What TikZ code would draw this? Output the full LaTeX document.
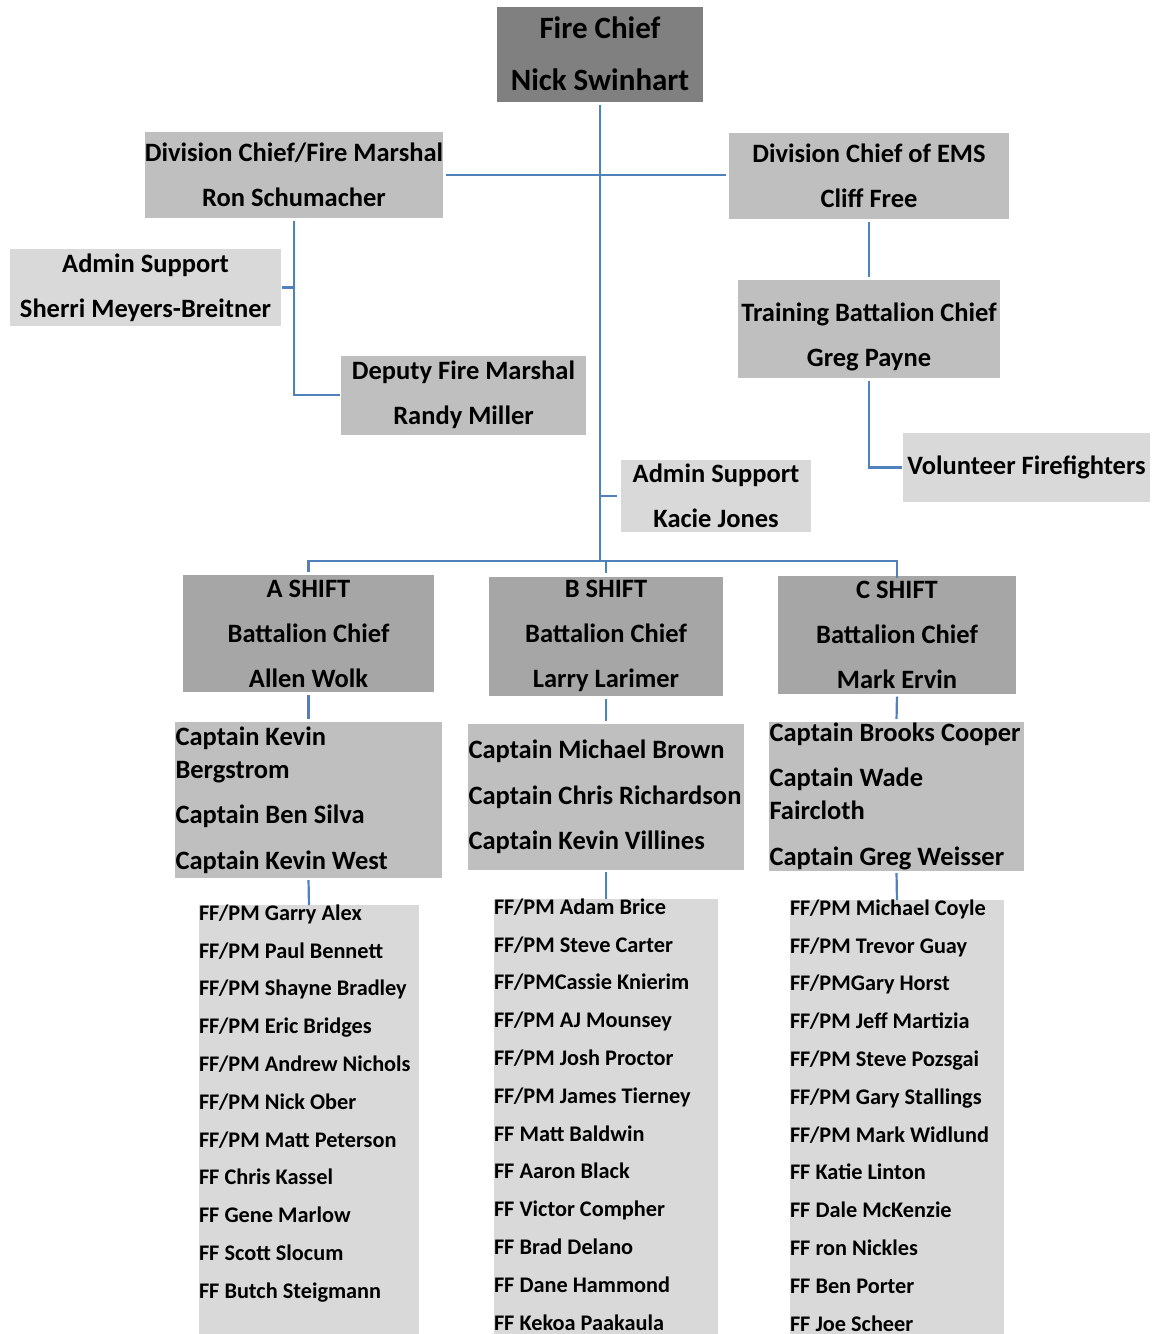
\documentclass[tikz,border=0pt]{standalone}
\usepackage{fontspec}
\setmainfont{Carlito}
\usepackage{tikz}
\usepackage{xcolor}

\definecolor{linkblue}{HTML}{4F81BD}
\definecolor{chiefgray}{HTML}{808080}
\definecolor{shiftgray}{HTML}{A6A6A6}
\definecolor{midgray}{HTML}{BFBFBF}
\definecolor{palegray}{HTML}{D9D9D9}

\tikzset{
  orgbox/.style={rectangle, inner sep=0pt, align=center, fill=midgray,
    font=\bfseries\fontsize{26.5}{45}\selectfont},
  crewbox/.style={rectangle, inner xsep=0.5pt, inner ysep=0pt, align=flush left, fill=midgray,
    font=\bfseries\fontsize{26.5}{33}\selectfont},
  rosterbox/.style={rectangle, inner sep=0pt, anchor=north, align=flush left, fill=palegray,
    text height=15pt, text depth=480pt, font=\bfseries\fontsize{22.3}{37.8}\selectfont},
  link/.style={draw=linkblue, line width=2.2pt},
}

\begin{document}
\begin{tikzpicture}[x=1pt, y=-1pt]
\useasboundingbox (0,0) rectangle (1155,1334);
\clip (0,0) rectangle (1155,1334);
\fill[white] (0,0) rectangle (1155,1334);

% top of the chart
\node[orgbox, fill=chiefgray, minimum width=206, minimum height=95,
  font=\bfseries\fontsize{31}{52}\selectfont] (chief) at (600,54) {Fire Chief\\Nick Swinhart};
\node[orgbox, minimum width=298, minimum height=86] (marshal) at (294,175) {Division Chief/Fire Marshal\\Ron Schumacher};
\node[orgbox, minimum width=280, minimum height=86] (ems) at (869,175.5) {Division Chief of EMS\\Cliff Free};

% fire marshal side
\node[orgbox, fill=palegray, minimum width=271, minimum height=77] (adminA) at (145.5,287.5) {Admin Support\\Sherri Meyers-Breitner};
\node[orgbox, minimum width=245, minimum height=79] (deputy) at (463.5,395) {Deputy Fire Marshal\\Randy Miller};

% EMS side
\node[orgbox, align=flush center, text width=262, text height=41.5pt, text depth=56.5pt, anchor=north] (training) at (869,280) {Training Battalion Chief\\Greg Payne};
\node[orgbox, fill=palegray, minimum width=247, minimum height=69] (volunteer) at (1026.5,467.5) {Volunteer Firefighters};
\node[orgbox, fill=palegray, minimum width=190, minimum height=72] (adminB) at (716,496) {Admin Support\\Kacie Jones};

% shifts
\node[orgbox, fill=shiftgray, minimum width=251, minimum height=117] (shiftA) at (308.5,633.5) {A SHIFT\\Battalion Chief\\Allen Wolk};
\node[orgbox, fill=shiftgray, minimum width=234, minimum height=119] (shiftB) at (606,636) {B SHIFT\\Battalion Chief\\Larry Larimer};
\node[orgbox, fill=shiftgray, minimum width=238, minimum height=118] (shiftC) at (897,634.5) {C SHIFT\\Battalion Chief\\Mark Ervin};

% captains
\node[crewbox, text width=266, minimum height=156] (capA) at (308.5,800) {Captain Kevin\\Bergstrom\\[12.5pt]Captain Ben Silva\\[12.5pt]Captain Kevin West};
\node[crewbox, text width=275, minimum height=146] (capB) at (606,797) {Captain Michael Brown\\[12.5pt]Captain Chris Richardson\\[12.5pt]Captain Kevin Villines};
\node[crewbox, text width=254, minimum height=149] (capC) at (896.5,796.5) {Captain Brooks Cooper\\[12.5pt]Captain Wade\\Faircloth\\[13pt]Captain Greg Weisser};

% firefighters
\node[rosterbox, text width=220] (crewA) at (309,905) {FF/PM Garry Alex\\FF/PM Paul Bennett\\FF/PM Shayne Bradley\\FF/PM Eric Bridges\\FF/PM Andrew Nichols\\FF/PM Nick Ober\\FF/PM Matt Peterson\\FF Chris Kassel\\FF Gene Marlow\\FF Scott Slocum\\FF Butch Steigmann};
\node[rosterbox, text width=224] (crewB) at (606,899) {FF/PM Adam Brice\\FF/PM Steve Carter\\FF/PMCassie Knierim\\FF/PM AJ Mounsey\\FF/PM Josh Proctor\\FF/PM James Tierney\\FF Matt Baldwin\\FF Aaron Black\\FF Victor Compher\\FF Brad Delano\\FF Dane Hammond\\FF Kekoa Paakaula};
\node[rosterbox, text width=214] (crewC) at (897,900) {FF/PM Michael Coyle\\FF/PM Trevor Guay\\FF/PMGary Horst\\FF/PM Jeff Martizia\\FF/PM Steve Pozsgai\\FF/PM Gary Stallings\\FF/PM Mark Widlund\\FF Katie Linton\\FF Dale McKenzie\\FF ron Nickles\\FF Ben Porter\\FF Joe Scheer};

% connectors
\coordinate (bar) at (600,561);
\draw[link] ([yshift=-3pt]chief.south) -- (bar);
\draw[link, shorten <=3pt, shorten >=3pt] (marshal.east) -- (marshal.east -| ems.west);
\draw[link, shorten <=3pt] (marshal.south) |- ([xshift=-1pt]deputy.west);
\draw[link] ([xshift=1pt]adminA.east) -- (adminA.east -| marshal.south);
\draw[link, shorten <=3pt, shorten >=3pt] (ems.south) -- (training.north);
\draw[link, shorten <=3pt] (training.south) |- ([xshift=-1pt]volunteer.west);
\draw[link] ([xshift=-4pt]adminB.west) -- (adminB.west -| chief.south);
\draw[link, shorten <=3pt] (shiftA.north) |- (bar) -| ([yshift=-3pt]shiftC.north);
\draw[link, shorten <=3pt] (shiftB.north) -- (shiftB.north |- bar);
\draw[link, shorten <=3pt, shorten >=3pt] (shiftA.south) -- (capA.north);
\draw[link, shorten <=3pt, shorten >=3pt] (shiftB.south) -- (capB.north);
\draw[link, shorten <=3pt, shorten >=3pt] (shiftC.south) -- (capC.north);
\draw[link, shorten <=2pt, shorten >=2pt] (capA.south) -- ([yshift=-2pt]crewA.north);
\draw[link, shorten <=2pt, shorten >=2pt] (capB.south) -- ([yshift=-2pt]crewB.north);
\draw[link, shorten <=2pt, shorten >=2pt] (capC.south) -- ([yshift=-2pt]crewC.north);
\end{tikzpicture}
\end{document}
